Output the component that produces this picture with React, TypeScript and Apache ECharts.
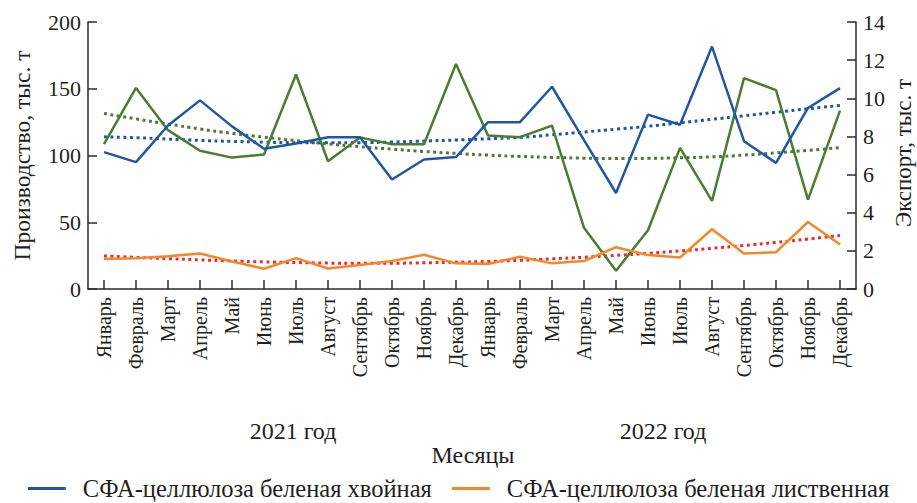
import React, { useEffect, useRef } from "react";
import * as echarts from "echarts";

const months = [
  "Январь", "Февраль", "Март", "Апрель", "Май", "Июнь", "Июль", "Август", "Сентябрь", "Октябрь", "Ноябрь", "Декабрь",
  "Январь", "Февраль", "Март", "Апрель", "Май", "Июнь", "Июль", "Август", "Сентябрь", "Октябрь", "Ноябрь", "Декабрь",
];
const categories = months.map((m, i) => (i < 12 ? m : m + "\u200b"));

const years = ["2021 год", "2022 год"];

const coniferous = [102.5, 95, 122.5, 141.3, 121.8, 105, 109, 113.6, 113.6, 82, 97, 98.8,
  125, 125, 151.5, 111.5, 71.9, 130.6, 123, 181.6, 110.7, 94.5, 135.6, 150.5];
const deciduous = [22.4, 23.1, 24.6, 26.6, 20.6, 15.2, 23.1, 15.4, 17.9, 20.9, 25.6, 19.2,
  18.7, 24.1, 19.2, 20.9, 31.3, 25.4, 23.6, 44.8, 26.6, 27.6, 50.2, 33.3];
const exportVals = [7.6, 10.54, 8.33, 7.25, 6.89, 7.05, 11.25, 6.7, 7.95, 7.59, 7.59, 11.8,
  8.05, 7.96, 8.57, 3.21, 0.96, 3.08, 7.4, 4.62, 11.06, 10.43, 4.69, 9.35];

const coniferousTrend = [114, 113.3, 112.3, 111.3, 110.6, 110, 109.6, 109.5, 109.6, 110.1, 110.8, 111.6,
  112.5, 113.6, 115.5, 117.6, 119.7, 121.9, 124.5, 127.1, 129.7, 132.4, 135, 137.5];
const deciduousTrend = [24.8, 23.7, 22.7, 21.8, 21.0, 20.3, 19.8, 19.4, 19.2, 19.3, 19.6, 20.1,
  20.6, 21.5, 22.6, 23.8, 25.2, 26.7, 28.5, 30.5, 32.6, 34.9, 37.4, 40.1];
const exportTrend = [9.2, 8.92, 8.65, 8.39, 8.16, 7.96, 7.78, 7.61, 7.46, 7.33, 7.21, 7.11,
  7.02, 6.95, 6.9, 6.86, 6.84, 6.85, 6.88, 6.93, 7.02, 7.14, 7.27, 7.41];

const leftTicks = { min: 0, max: 200, interval: 50 };
const rightTicks = { min: 0, max: 14, interval: 2 };

const names = {
  con: "СФА-целлюлоза беленая хвойная",
  dec: "СФА-целлюлоза беленая лиственная",
  exp: "Экспорт",
};
const rightTitle = "Экспорт, тыс. т";

const BLUE = "#1f57a5";
const ORANGE = "#f5862a";
const GREEN = "#4a7d2f";
const RED = "#ee2b2b";
const TXT = "#231f20";
const FONT = "Liberation Serif";

export default function App() {
  const ref = useRef<HTMLDivElement>(null);
  useEffect(() => {
    if (!ref.current) return;
    const chart = echarts.init(ref.current, null, { renderer: "svg" });
    const axisLine = { show: true, lineStyle: { color: "#2a2a2a", width: 1.5 } };
    const tick = { show: true, inside: true, length: 9, lineStyle: { color: "#2a2a2a", width: 1.5 } };
    const option: any = {
      animation: false,
      backgroundColor: "#ffffff",
      textStyle: { fontFamily: FONT, color: TXT },
      grid: { left: 88, right: 61, top: 22, bottom: 214, containLabel: false, outerBoundsMode: "none" },
      legend: {
        data: [
          { name: names.con, icon: "rect" },
          { name: names.dec, icon: "rect" },
        ],
        left: "center",
        top: 476,
        padding: 0,
        itemWidth: 38,
        itemHeight: 3,
        itemGap: 20,
        textStyle: { fontFamily: FONT, fontSize: 24.5, lineHeight: 24, color: TXT, padding: [0, 0, 0, 12] },
      },
      xAxis: {
        type: "category",
        data: categories,
        boundaryGap: true,
        axisLine,
        axisTick: { ...tick, alignWithLabel: true },
        axisLabel: {
          rotate: 90,
          interval: 0,
          margin: 8,
          fontFamily: FONT,
          fontSize: 20,
          color: TXT,
          formatter: (v: string) => v.replace("\u200b", ""),
        },
        splitLine: { show: false },
      },
      yAxis: [
        {
          type: "value",
          ...leftTicks,
          name: "Производство, тыс. т",
          nameLocation: "middle",
          nameRotate: 90,
          nameGap: 54,
          nameTextStyle: { fontFamily: FONT, fontSize: 23.5, color: TXT },
          axisLine,
          axisTick: tick,
          axisLabel: { fontFamily: FONT, fontSize: 22, color: TXT, margin: 7 },
          splitLine: { show: false },
        },
        {
          type: "value",
          ...rightTicks,
          position: "right",
          axisLine,
          axisTick: tick,
          axisLabel: { fontFamily: FONT, fontSize: 22, color: TXT, margin: 7 },
          splitLine: { show: false },
        },
      ],
      series: [
        {
          name: names.exp + " тренд",
          type: "line",
          yAxisIndex: 1,
          data: exportTrend,
          smooth: true,
          symbol: "none",
          lineStyle: { color: GREEN, width: 3, type: [3, 3.5] },
          itemStyle: { color: GREEN },
        },
        {
          name: names.con + " тренд",
          type: "line",
          data: coniferousTrend,
          smooth: true,
          symbol: "none",
          lineStyle: { color: BLUE, width: 3, type: [3, 3.5] },
          itemStyle: { color: BLUE },
        },
        {
          name: names.dec + " тренд",
          type: "line",
          data: deciduousTrend,
          smooth: true,
          symbol: "none",
          lineStyle: { color: RED, width: 3, type: [3, 3.5] },
          itemStyle: { color: RED },
        },
        {
          name: names.exp,
          type: "line",
          yAxisIndex: 1,
          data: exportVals,
          symbol: "none",
          lineStyle: { color: GREEN, width: 2.5 },
          itemStyle: { color: GREEN },
        },
        {
          name: names.con,
          type: "line",
          data: coniferous,
          symbol: "none",
          lineStyle: { color: BLUE, width: 2.5 },
          itemStyle: { color: BLUE },
        },
        {
          name: names.dec,
          type: "line",
          data: deciduous,
          symbol: "none",
          lineStyle: { color: ORANGE, width: 2.5 },
          itemStyle: { color: ORANGE },
        },
      ],
      graphic: [
        {
          type: "text",
          x: 903,
          y: 153,
          rotation: Math.PI / 2,
          style: { text: rightTitle, fontFamily: FONT, fontSize: 23, fill: TXT, align: "center", verticalAlign: "middle" },
        },
        {
          type: "text",
          x: 293,
          y: 431,
          style: { text: years[0], fontFamily: FONT, fontSize: 24, fill: TXT, align: "center", verticalAlign: "middle" },
        },
        {
          type: "text",
          x: 663,
          y: 431,
          style: { text: years[1], fontFamily: FONT, fontSize: 24, fill: TXT, align: "center", verticalAlign: "middle" },
        },
        {
          type: "text",
          x: 473,
          y: 455,
          style: { text: "Месяцы", fontFamily: FONT, fontSize: 24, fill: TXT, align: "center", verticalAlign: "middle" },
        },
      ],
    };
    chart.setOption(option);
    return () => chart.dispose();
  }, []);
  return (
    <div
      ref={ref}
      style={{ position: "fixed", left: 0, top: 0, width: 917, height: 503, background: "#fff" }}
    />
  );
}
